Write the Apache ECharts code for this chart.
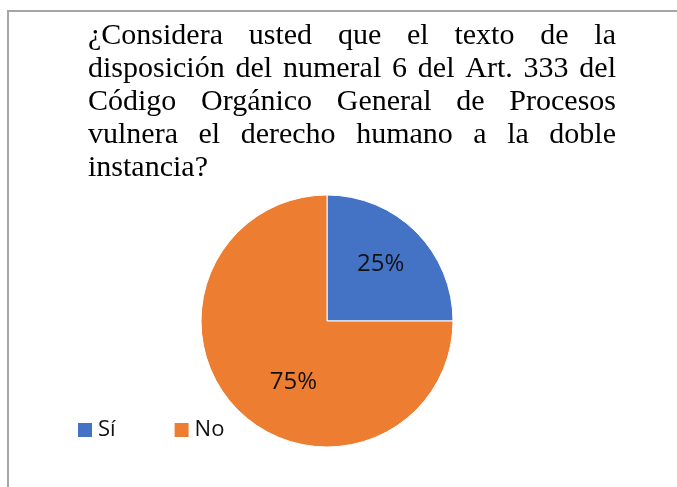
<!DOCTYPE html>
<html>
<head>
<meta charset="utf-8">
<script src="https://cdn.jsdelivr.net/npm/echarts@6/dist/echarts.min.js"></script>
<style>
  html, body { margin: 0; padding: 0; background: #fff; }
  #chart { width: 677px; height: 487px; }
</style>
</head>
<body>
<div id="chart"></div>
<script>
// datos del gráfico
var categories = ['Sí', 'No']
var values = [25, 75]
var colors = ['#4472C4', '#ED7D31']
var titleLines = [
  '¿Considera usted que el texto de la',
  'disposición del numeral 6 del Art. 333 del',
  'Código Orgánico General de Procesos',
  'vulnera el derecho humano a la doble',
  'instancia?'
]

var chart = echarts.init(document.getElementById('chart'))

// título justificado: una palabra por elemento de texto
var titleFont = '30px "Liberation Serif"'
var ctx = document.createElement('canvas').getContext('2d')
ctx.font = titleFont
var textLeft = 88
var textRight = 616
var firstLineY = 36
var lineStep = 33
var titleGraphics = []
titleLines.forEach(function (line, i) {
  var words = line.split(' ')
  var widths = words.map(function (w) { return ctx.measureText(w).width })
  var total = widths.reduce(function (a, b) { return a + b }, 0)
  var last = i === titleLines.length - 1
  var gap = (last || words.length < 2) ? ctx.measureText(' ').width : (textRight - textLeft - total) / (words.length - 1)
  var x = textLeft
  words.forEach(function (w, j) {
    titleGraphics.push({
      type: 'text',
      x: x,
      y: firstLineY + i * lineStep,
      style: {
        text: w,
        font: titleFont,
        fill: '#000',
        verticalAlign: 'middle'
      }
    })
    x += widths[j] + gap
  })
})

var labelOffsets = [[7, -10], [13, 14]]

var option = {
  color: colors,
  animation: false,
  graphic: [
    { // marco gris
      type: 'polyline',
      shape: { points: [[8, 487], [8, 11], [677, 11]] },
      style: { stroke: '#a6a6a6', lineWidth: 2, fill: null }
    }
  ].concat(titleGraphics),
  legend: {
    data: categories,
    left: 71,
    top: 414,
    icon: 'rect',
    itemWidth: 16,
    itemHeight: 16,
    itemGap: 57,
    textStyle: {
      fontFamily: 'Open Sans',
      fontSize: 22,
      color: '#111'
    }
  },
  series: [
    {
      type: 'pie',
      center: [327, 321],
      radius: 126,
      startAngle: 90,
      clockwise: true,
      data: categories.map(function (c, i) {
        return { name: c, value: values[i], label: { offset: labelOffsets[i] } }
      }),
      itemStyle: {
        borderColor: '#fff',
        borderWidth: 1
      },
      label: {
        show: true,
        position: 'inside',
        formatter: '{d}%',
        fontFamily: 'Open Sans',
        fontSize: 24,
        color: '#111'
      },
      labelLine: { show: false },
      emphasis: { disabled: true }
    }
  ]
}
chart.setOption(option)
window.addEventListener('resize', function () {
  chart.resize()
})
</script>
</body>
</html>
